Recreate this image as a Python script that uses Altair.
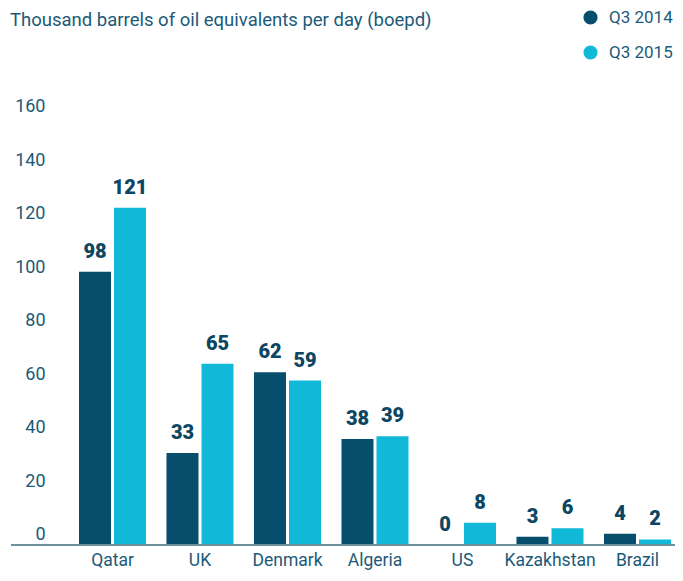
import altair as alt
import pandas as pd

countries = ["Qatar", "UK", "Denmark", "Algeria", "US", "Kazakhstan", "Brazil"]
q3_2014 = [98, 33, 62, 38, 0, 3, 4]
q3_2015 = [121, 65, 59, 39, 8, 6, 2]
series = ["Q3 2014", "Q3 2015"]
colors = ["#074d6c", "#12b8d8"]
y_ticks = [0, 20, 40, 60, 80, 100, 120, 140, 160]

rows = []
for c, a, b in zip(countries, q3_2014, q3_2015):
    rows.append({"country": c, "series": series[0], "value": a})
    rows.append({"country": c, "series": series[1], "value": b})
df = pd.DataFrame(rows)
tick_df = pd.DataFrame({"tick": y_ticks})

txt = "#1b5a78"
W, H = 607, 446

x = alt.X("country:N", sort=countries, title=None,
          scale=alt.Scale(paddingInner=0.234, paddingOuter=0.0857, align=0.733),
          axis=alt.Axis(labelAngle=0, ticks=False, domain=False,
                        labelFontSize=17.5, labelColor=txt, labelPadding=6, labelFont="Roboto"))
y = alt.Y("value:Q", title=None, scale=alt.Scale(domain=[0, 160]), axis=None)
xo = alt.XOffset("series:N", sort=series, scale=alt.Scale(paddingInner=0.086))

bars = alt.Chart(df).mark_bar().encode(
    x=x, y=y, xOffset=xo,
    color=alt.Color("series:N", sort=series, scale=alt.Scale(domain=series, range=colors),
                    legend=alt.Legend(title=None, orient="none", legendX=514, legendY=-90,
                                      symbolType="circle", symbolSize=200, labelFontSize=17,
                                      labelColor=txt, rowPadding=17, labelFont="Roboto",
                                      symbolStrokeWidth=0, labelOffset=10, labelLimit=200)),
)
labels = alt.Chart(df).mark_text(baseline="alphabetic", dy=-14, fontSize=20, fontWeight=900,
                                 color="#0c4663", font="Roboto").encode(
    x=x, y=y, xOffset=xo, text="value:Q")

baseline = alt.Chart(tick_df).transform_filter("datum.tick == 0").mark_rule(
    color="#6f909e", strokeWidth=2).encode(
    y=alt.Y("tick:Q", scale=alt.Scale(domain=[0, 160]), axis=None),
    x=alt.value(-57), x2=alt.value(W))

yaxis = alt.Chart(tick_df).mark_point(opacity=0).encode(
    y=alt.Y("tick:Q", title=None, scale=alt.Scale(domain=[-4.486, 162.24], nice=False, zero=False),
            axis=alt.Axis(values=y_ticks, grid=False, domain=False, ticks=False, orient="left",
                          labelFontSize=18, labelColor=txt, labelPadding=23, labelFont="Roboto",
                          labelOffset=2)))

chart = alt.layer(bars, labels, baseline, yaxis).resolve_scale(y="independent").properties(
    width=W, height=H,
    title=alt.TitleParams("Thousand barrels of oil equivalents per day (boepd)", anchor="start",
                          frame="bounds", fontSize=18.5, fontWeight="normal", color=txt,
                          font="Roboto", offset=0, dy=20),
    autosize=alt.AutoSizeParams(type="none"),
    padding={"left": 60, "top": 91, "right": 0, "bottom": 28},
).configure_view(stroke=None)

chart.save("out.html", embed_options={"renderer": "svg", "actions": False})
